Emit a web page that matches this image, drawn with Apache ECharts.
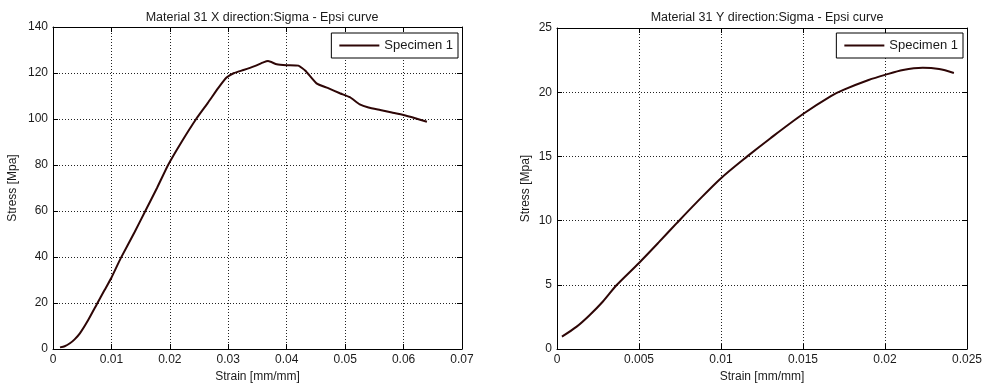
<!DOCTYPE html>
<html>
<head>
<meta charset="utf-8">
<script src="https://cdn.jsdelivr.net/npm/echarts@6/dist/echarts.min.js"></script>
<style>
html,body{margin:0;padding:0;background:#fff;}
#c{width:989px;height:389px;}
</style>
</head>
<body>
<div id="c"></div>
<script>
// Left chart: Material 31 X direction
var xStrain = [0.0012,0.0020,0.0029,0.0037,0.0046,0.0060,0.0075,0.0088,0.0100,0.0116,0.0140,0.0158,0.0178,0.0197,0.0220,0.0245,0.0265,0.0283,0.0297,0.0310,0.0326,0.0345,0.0360,0.0368,0.0383,0.0400,0.0420,0.0432,0.0451,0.0470,0.0491,0.0508,0.0525,0.0540,0.0560,0.0580,0.0600,0.0620,0.0640];
var xStress = [0.7,1.2,2.5,4.2,6.8,12.5,19.5,25.5,31.0,39.5,51.0,60.0,70.0,80.0,90.0,100.0,107.0,113.5,118.0,120.0,121.3,123.0,124.6,125.2,123.8,123.4,123.2,121.0,115.5,113.5,111.2,109.5,106.4,105.0,103.9,102.8,101.7,100.3,98.8];
// Right chart: Material 31 Y direction
var yStrain = [0.0003,0.0012,0.0020,0.0028,0.00364,0.0050,0.0062,0.0073,0.0085,0.0100,0.0116,0.0130,0.0150,0.0167,0.0175,0.0190,0.0200,0.0211,0.0223,0.0233,0.0242];
var yStress = [0.96,1.74,2.65,3.7,4.98,6.7,8.3,9.8,11.4,13.3,15.0,16.4,18.3,19.7,20.2,20.95,21.35,21.73,21.9,21.8,21.5];

var titles = ['Material 31 X direction:Sigma - Epsi curve','Material 31 Y direction:Sigma - Epsi curve'];
var seriesName = 'Specimen 1';
var xAxisName = 'Strain [mm/mm]';
var yAxisName = 'Stress [Mpa]';

function pairs(a,b){return a.map(function(v,i){return [v,b[i]];});}

var font = 'Liberation Sans, Arial, sans-serif';
var txt = '#1a1a1a';
function fmt(v){return String(+(+v).toFixed(4));}

function xAx(gi,max,interval,primary){
  return {
    type:'value', gridIndex:gi, min:0, max:max, interval:interval,
    position: primary?'bottom':'top',
    name: primary?xAxisName:'', nameLocation:'middle', nameGap:20,
    nameTextStyle:{fontFamily:font,fontSize:12,color:txt},
    axisLine:{show:true,onZero:false,lineStyle:{color:'#000',width:1}},
    axisTick:{show:true,inside:true,length:5,lineStyle:{color:'#000'}},
    axisLabel:{show:primary,fontFamily:font,fontSize:12,color:txt,margin:5,formatter:fmt},
    splitLine:{show:primary,lineStyle:{color:'#222',type:[1,2],width:1}}
  };
}
function yAx(gi,max,interval,primary,gap){
  return {
    type:'value', gridIndex:gi, min:0, max:max, interval:interval,
    position: primary?'left':'right',
    name: primary?yAxisName:'', nameLocation:'middle', nameGap:gap, nameRotate:90,
    nameTextStyle:{fontFamily:font,fontSize:12,color:txt},
    axisLine:{show:true,onZero:false,lineStyle:{color:'#000',width:1}},
    axisTick:{show:true,inside:true,length:5,lineStyle:{color:'#000'}},
    axisLabel:{show:primary,fontFamily:font,fontSize:12,color:txt,margin:5},
    splitLine:{show:primary,lineStyle:{color:'#222',type:[1,2],width:1}}
  };
}

var chart = echarts.init(document.getElementById('c'),null,{renderer:'canvas'});
chart.setOption({
  backgroundColor:'#fff',
  animation:false,
  title:[
    {text:titles[0],left:257,top:6,textAlign:'center',textStyle:{fontFamily:font,fontSize:12.5,fontWeight:'normal',color:txt}},
    {text:titles[1],left:762,top:6,textAlign:'center',textStyle:{fontFamily:font,fontSize:12.5,fontWeight:'normal',color:txt}}
  ],
  legend:[
    {data:[seriesName],right:531,top:33,orient:'vertical',itemWidth:40,itemHeight:2,itemGap:5,
     padding:[6,5,6,8],borderColor:'#000',borderWidth:1,backgroundColor:'#fff',borderRadius:0,
     icon:'rect',textStyle:{fontFamily:font,fontSize:13,color:txt}},
    {data:[seriesName],right:26,top:33,orient:'vertical',itemWidth:40,itemHeight:2,itemGap:5,
     padding:[6,5,6,8],borderColor:'#000',borderWidth:1,backgroundColor:'#fff',borderRadius:0,
     icon:'rect',textStyle:{fontFamily:font,fontSize:13,color:txt}}
  ],
  grid:[
    {left:53,right:527,top:27,bottom:40,containLabel:false},
    {left:557,right:22,top:28,bottom:40,containLabel:false}
  ],
  xAxis:[xAx(0,0.07,0.01,true),xAx(0,0.07,0.01,false),xAx(1,0.025,0.005,true),xAx(1,0.025,0.005,false)],
  yAxis:[yAx(0,140,20,true,34),yAx(0,140,20,false,0),yAx(1,25,5,true,25),yAx(1,25,5,false,0)],
  series:[
    {name:seriesName,type:'line',xAxisIndex:0,yAxisIndex:0,data:pairs(xStrain,xStress),smooth:0.15,
     showSymbol:false,symbol:'none',lineStyle:{color:'#2e0606',width:2},itemStyle:{color:'#2e0606'}},
    {name:seriesName,type:'line',xAxisIndex:2,yAxisIndex:2,data:pairs(yStrain,yStress),smooth:0.3,
     showSymbol:false,symbol:'none',lineStyle:{color:'#2e0606',width:2},itemStyle:{color:'#2e0606'}}
  ]
});
</script>
</body>
</html>
